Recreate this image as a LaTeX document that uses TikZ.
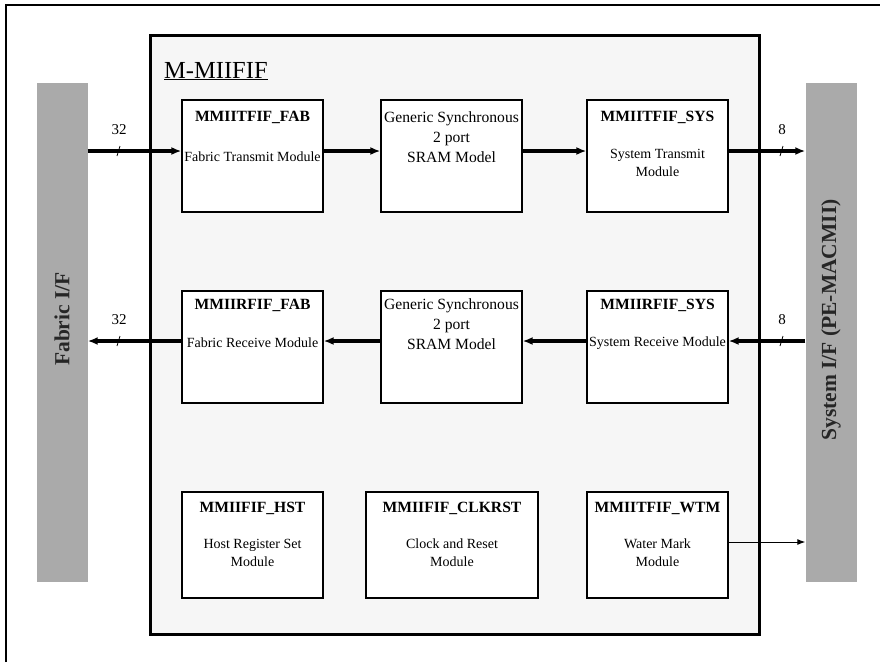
\documentclass[tikz,border=0pt]{standalone}
\usepackage{fontspec}
\setmainfont{Liberation Serif}
\usetikzlibrary{arrows.meta}
\definecolor{barg}{HTML}{AAAAAA}
\definecolor{mainbg}{HTML}{F6F6F6}
\tikzset{
  modbox/.style={draw, line width=1.3pt, fill=white, minimum width=141pt, minimum height=112pt, inner sep=0pt},
  bar/.style={fill=barg, draw=none, minimum width=51pt, minimum height=499pt, inner sep=0pt},
  ttl/.style={font=\bfseries\fontsize{15.6}{17}\selectfont, inner sep=0pt},
  desc/.style={font=\fontsize{14}{19}\selectfont, align=center, inner sep=0pt},
  sramtxt/.style={font=\fontsize{15.6}{20}\selectfont, align=center, inner sep=0pt},
  bus/.style={line width=3.4pt, -{Latex[length=10pt,width=8pt]}},
  thin/.style={line width=1pt, -{Latex[length=8pt,width=6pt]}},
  tick/.style={line width=0.8pt},
  lbl/.style={font=\fontsize{15}{17}\selectfont, inner sep=0pt}
}
\begin{document}
\begin{tikzpicture}[x=1pt,y=-1pt]
\useasboundingbox (0,0) rectangle (880,662);
\fill[white] (0,0) rectangle (880,662);
% outer frame
\coordinate (fbl) at (6,662);
\coordinate (ftl) at (6,5);
\coordinate (ftr) at (880,5);
\draw[line width=1.2pt] (fbl) -- (ftl) -- (ftr);
% main box
\node[draw, line width=3pt, fill=mainbg, minimum width=609pt, minimum height=599pt, inner sep=0pt] (main) at (454.5,334.5) {};
\node[anchor=base west, font=\fontsize{24.5}{26}\selectfont, inner sep=0pt] (mtitle) at (164,78) {\underline{M-MIIFIF}};
% bars
\node[bar] (fbar) at (62,332.5) {};
\node[bar] (sbar) at (831,332.5) {};
\node[rotate=90, font=\bfseries\fontsize{21.5}{23}\selectfont, text=black!85, inner sep=0pt] (ftxt) at (62,319) {Fabric I/F};
\node[rotate=90, font=\bfseries\fontsize{21.5}{23}\selectfont, text=black!85, inner sep=0pt] (stxt) at (831,320) {System I/F (PE-MACMII)};
% row 1
\node[modbox] (tfab) at (252.5,156) {};
\node[modbox] (sram1) at (451.5,156) {};
\node[modbox] (tsys) at (657.5,156) {};
\node[ttl] (tfabt) at (252.5,117) {MMIITFIF\_FAB};
\node[desc] (tfabd) at (252.5,157) {Fabric Transmit Module};
\node[sramtxt] (sram1d) at (451.5,137) {Generic Synchronous\\2 port\\SRAM Model};
\node[ttl] (tsyst) at (657.5,117) {MMIITFIF\_SYS};
\node[desc, font=\fontsize{14}{18}\selectfont] (tsysd) at (657.5,163) {System Transmit\\Module};
% row 2
\node[modbox] (rfab) at (252.5,347) {};
\node[modbox] (sram2) at (451.5,347) {};
\node[modbox] (rsys) at (657.5,347) {};
\node[ttl] (rfabt) at (252.5,305) {MMIIRFIF\_FAB};
\node[desc] (rfabd) at (252.5,343) {Fabric Receive Module};
\node[sramtxt] (sram2d) at (451.5,324) {Generic Synchronous\\2 port\\SRAM Model};
\node[ttl] (rsyst) at (657.5,305) {MMIIRFIF\_SYS};
\node[desc] (rsysd) at (657.5,343) {System Receive Module};
% row 3
\node[modbox, minimum height=106pt] (hst) at (252.5,545) {};
\node[modbox, minimum height=106pt, minimum width=172pt] (clk) at (452,545) {};
\node[modbox, minimum height=106pt] (wtm) at (657.5,545) {};
\node[ttl] (hstt) at (252.5,508) {MMIIFIF\_HST};
\node[desc, font=\fontsize{14}{18}\selectfont] (hstd) at (252.5,553) {Host Register Set\\Module};
\node[ttl] (clkt) at (452,508) {MMIIFIF\_CLKRST};
\node[desc, font=\fontsize{14}{18}\selectfont] (clkd) at (452,553) {Clock and Reset\\Module};
\node[ttl] (wtmt) at (657.5,508) {MMIITFIF\_WTM};
\node[desc, font=\fontsize{14}{18}\selectfont] (wtmd) at (657.5,553) {Water Mark\\Module};
% row coordinates
\coordinate (r1) at (0,151);
\coordinate (r2) at (0,341);
\coordinate (r3) at (0,542);
% row 1 arrows
\draw[bus] (fbar.east |- r1) -- (tfab.west |- r1);
\draw[bus] (tfab.east |- r1) -- (sram1.west |- r1);
\draw[bus] (sram1.east |- r1) -- (tsys.west |- r1);
\draw[bus] (tsys.east |- r1) -- (sbar.west |- r1);
% row 2 arrows
\draw[bus] (rfab.west |- r2) -- (fbar.east |- r2);
\draw[bus] (sram2.west |- r2) -- (rfab.east |- r2);
\draw[bus] (rsys.west |- r2) -- (sram2.east |- r2);
\draw[bus] (sbar.west |- r2) -- (rsys.east |- r2);
% watermark
\draw[thin] (wtm.east |- r3) -- (sbar.west |- r3);
% ticks and bus widths
\coordinate (t1a) at (117,156); \coordinate (t1b) at (120,146);
\draw[tick] (t1a) -- (t1b);
\coordinate (t2a) at (780,156); \coordinate (t2b) at (783,146);
\draw[tick] (t2a) -- (t2b);
\coordinate (t3a) at (117,346); \coordinate (t3b) at (120,336);
\draw[tick] (t3a) -- (t3b);
\coordinate (t4a) at (780,346); \coordinate (t4b) at (783,336);
\draw[tick] (t4a) -- (t4b);
\node[lbl] (l1) at (119,130) {32};
\node[lbl] (l2) at (782,130) {8};
\node[lbl] (l3) at (119,320) {32};
\node[lbl] (l4) at (782,320) {8};
\end{tikzpicture}
\end{document}
